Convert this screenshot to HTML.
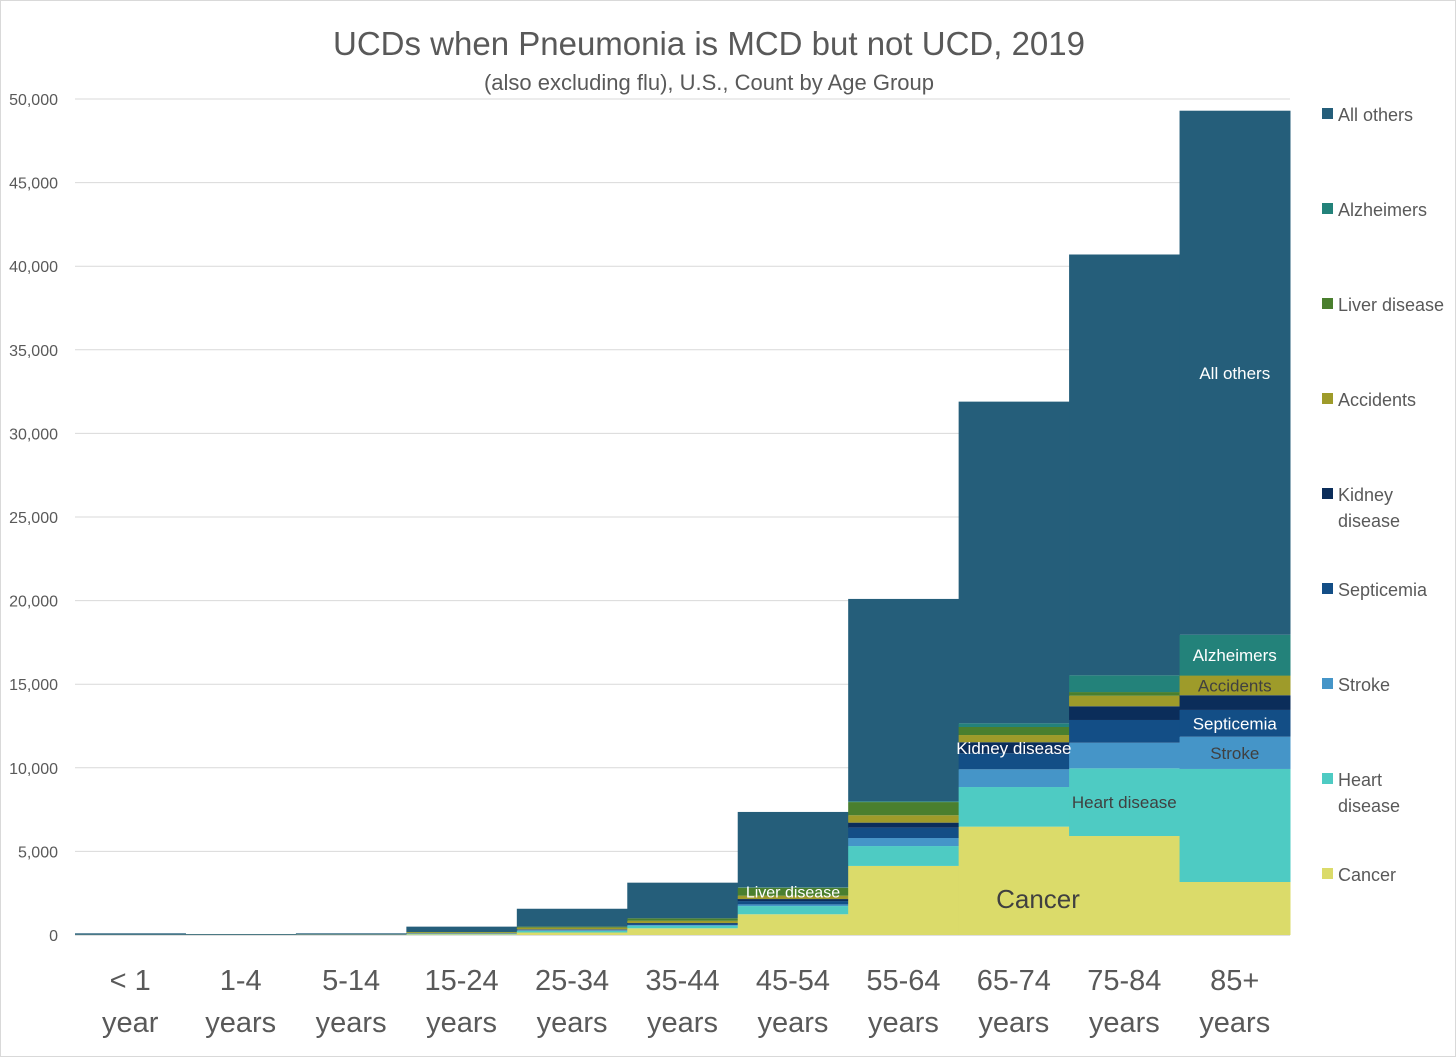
<!DOCTYPE html>
<html><head><meta charset="utf-8"><style>
body{margin:0;background:#fff;}
svg{display:block;font-family:"Liberation Sans",sans-serif;}
</style></head><body>
<svg id="chart" width="1456" height="1057">
<rect x="0.5" y="0.5" width="1455" height="1056" fill="#fff" stroke="#d9d9d9"/>
<text x="709" y="55" text-anchor="middle" font-size="33" fill="#595959">UCDs when Pneumonia is MCD but not UCD, 2019</text>
<text x="709" y="90" text-anchor="middle" font-size="22" fill="#595959">(also excluding flu), U.S., Count by Age Group</text>
<g id="grid"></g><g id="bars"></g><g id="labels"></g><g id="legend"></g>
</svg>
<script>
const categories = ["< 1|year","1-4|years","5-14|years","15-24|years","25-34|years","35-44|years","45-54|years","55-64|years","65-74|years","75-84|years","85+|years"];
const seriesNames = ["Cancer","Heart disease","Stroke","Septicemia","Kidney disease","Accidents","Liver disease","Alzheimers","All others"];
const seriesColors = ["#dbdb6a","#4ecbc3","#4595c8","#134e86","#0b2d5a","#9e9b2a","#4a7f2e","#23827a","#255e7a"];
const cancer   = [5,5,10,40,150,400,1240,4130,6480,5920,3170];
const heart    = [5,5,5,30,100,150,490,1190,2370,4050,6760];
const stroke   = [2,2,3,10,30,50,100,480,1060,1530,1930];
const septic   = [5,3,5,20,40,80,200,620,960,1360,1600];
const kidney   = [2,1,2,10,20,40,120,300,660,820,880];
const accidents= [3,5,10,60,100,130,200,440,430,630,1150];
const liver    = [0,0,0,10,60,150,480,790,480,220,40];
const alz      = [0,0,0,0,0,0,20,50,220,1000,2430];
const others   = [78,39,65,320,1070,2130,4510,12100,19240,25170,31340];
const series = [cancer,heart,stroke,septic,kidney,accidents,liver,alz,others];
const yTicks = [0,5000,10000,15000,20000,25000,30000,35000,40000,45000,50000];
const legendLabels = [["All others"],["Alzheimers"],["Liver disease"],["Accidents"],["Kidney","disease"],["Septicemia"],["Stroke"],["Heart","disease"],["Cancer"]];

const NS="http://www.w3.org/2000/svg";
const L=75,R=1290,T=99,B=935,YMAX=50000;
const y=v=>B-(v/YMAX)*(B-T);
const bw=(R-L)/categories.length;
const x=i=>L+i*bw;
function mk(tag,attrs,parent,txt){const e=document.createElementNS(NS,tag);for(const k in attrs)e.setAttribute(k,attrs[k]);if(txt!==undefined)e.textContent=txt;parent.appendChild(e);return e;}
const grid=document.getElementById('grid'),bars=document.getElementById('bars'),labels=document.getElementById('labels'),legend=document.getElementById('legend');
yTicks.forEach(t=>{
  const l=mk('line',{x1:L,x2:R,y1:y(t),y2:y(t),stroke:t===0?'#bfbfbf':'#d9d9d9','stroke-width':1},grid);
  
  
  const tx=mk('text',{x:58,y:y(t)+6,'text-anchor':'end','font-size':16,fill:'#595959'},grid,t.toLocaleString('en-US'));
  
  
});
categories.forEach((c,i)=>{
  let acc=0;
  series.forEach((s,k)=>{
    const v=s[i];
    const r=mk('rect',{x:x(i),y:y(acc+v),width:bw+0.5,height:Math.max(0,y(acc)-y(acc+v)),fill:seriesColors[k]},bars);
    
    
    acc+=v;
  });
  const parts=c.split('|');
  parts.forEach((p,j)=>{
    const t=mk('text',{x:x(i)+bw/2,y:990+j*42,'text-anchor':'middle','font-size':29,fill:'#595959'},labels,p);
    
    
  });
});
function segMid(k,i){let a=0;for(let j=0;j<k;j++)a+=series[j][i];return y(a+series[k][i]/2);}
const dl=[[8,10,"All others","#fff",17],[7,10,"Alzheimers","#fff",17],[5,10,"Accidents","#404040",17],[3,10,"Septicemia","#fff",17],[2,10,"Stroke","#404040",17],[1,9,"Heart disease","#404040",17],[4,8,"Kidney disease","#fff",17],[0,8,"Cancer","#404040",26],[6,6,"Liver disease","#fff",16]];
dl.forEach(d=>{
  let yy=segMid(d[0],d[1]);
  let xx=x(d[1])+bw/2;
  if(d[0]===8) yy=373; if(d[0]===0){ yy=899; xx=1038; } if(d[0]===6) yy=892; if(d[0]===4) yy=748;
  const t=mk('text',{x:xx,y:yy+d[4]*0.35,'text-anchor':'middle','font-size':d[4],fill:d[3]},labels,d[2]);
  
  
});
legendLabels.forEach((lab,i)=>{
  const ly=114+i*95;
  const col=seriesColors[8-i];
  const r=mk('rect',{x:1322,y:ly-6,width:11,height:11,fill:col},legend);
  
  
  lab.forEach((p,j)=>{
    const t=mk('text',{x:1338,y:ly+7+j*26,'font-size':18,fill:'#595959'},legend,p);
    
    
  });
});
</script>
</body></html>
